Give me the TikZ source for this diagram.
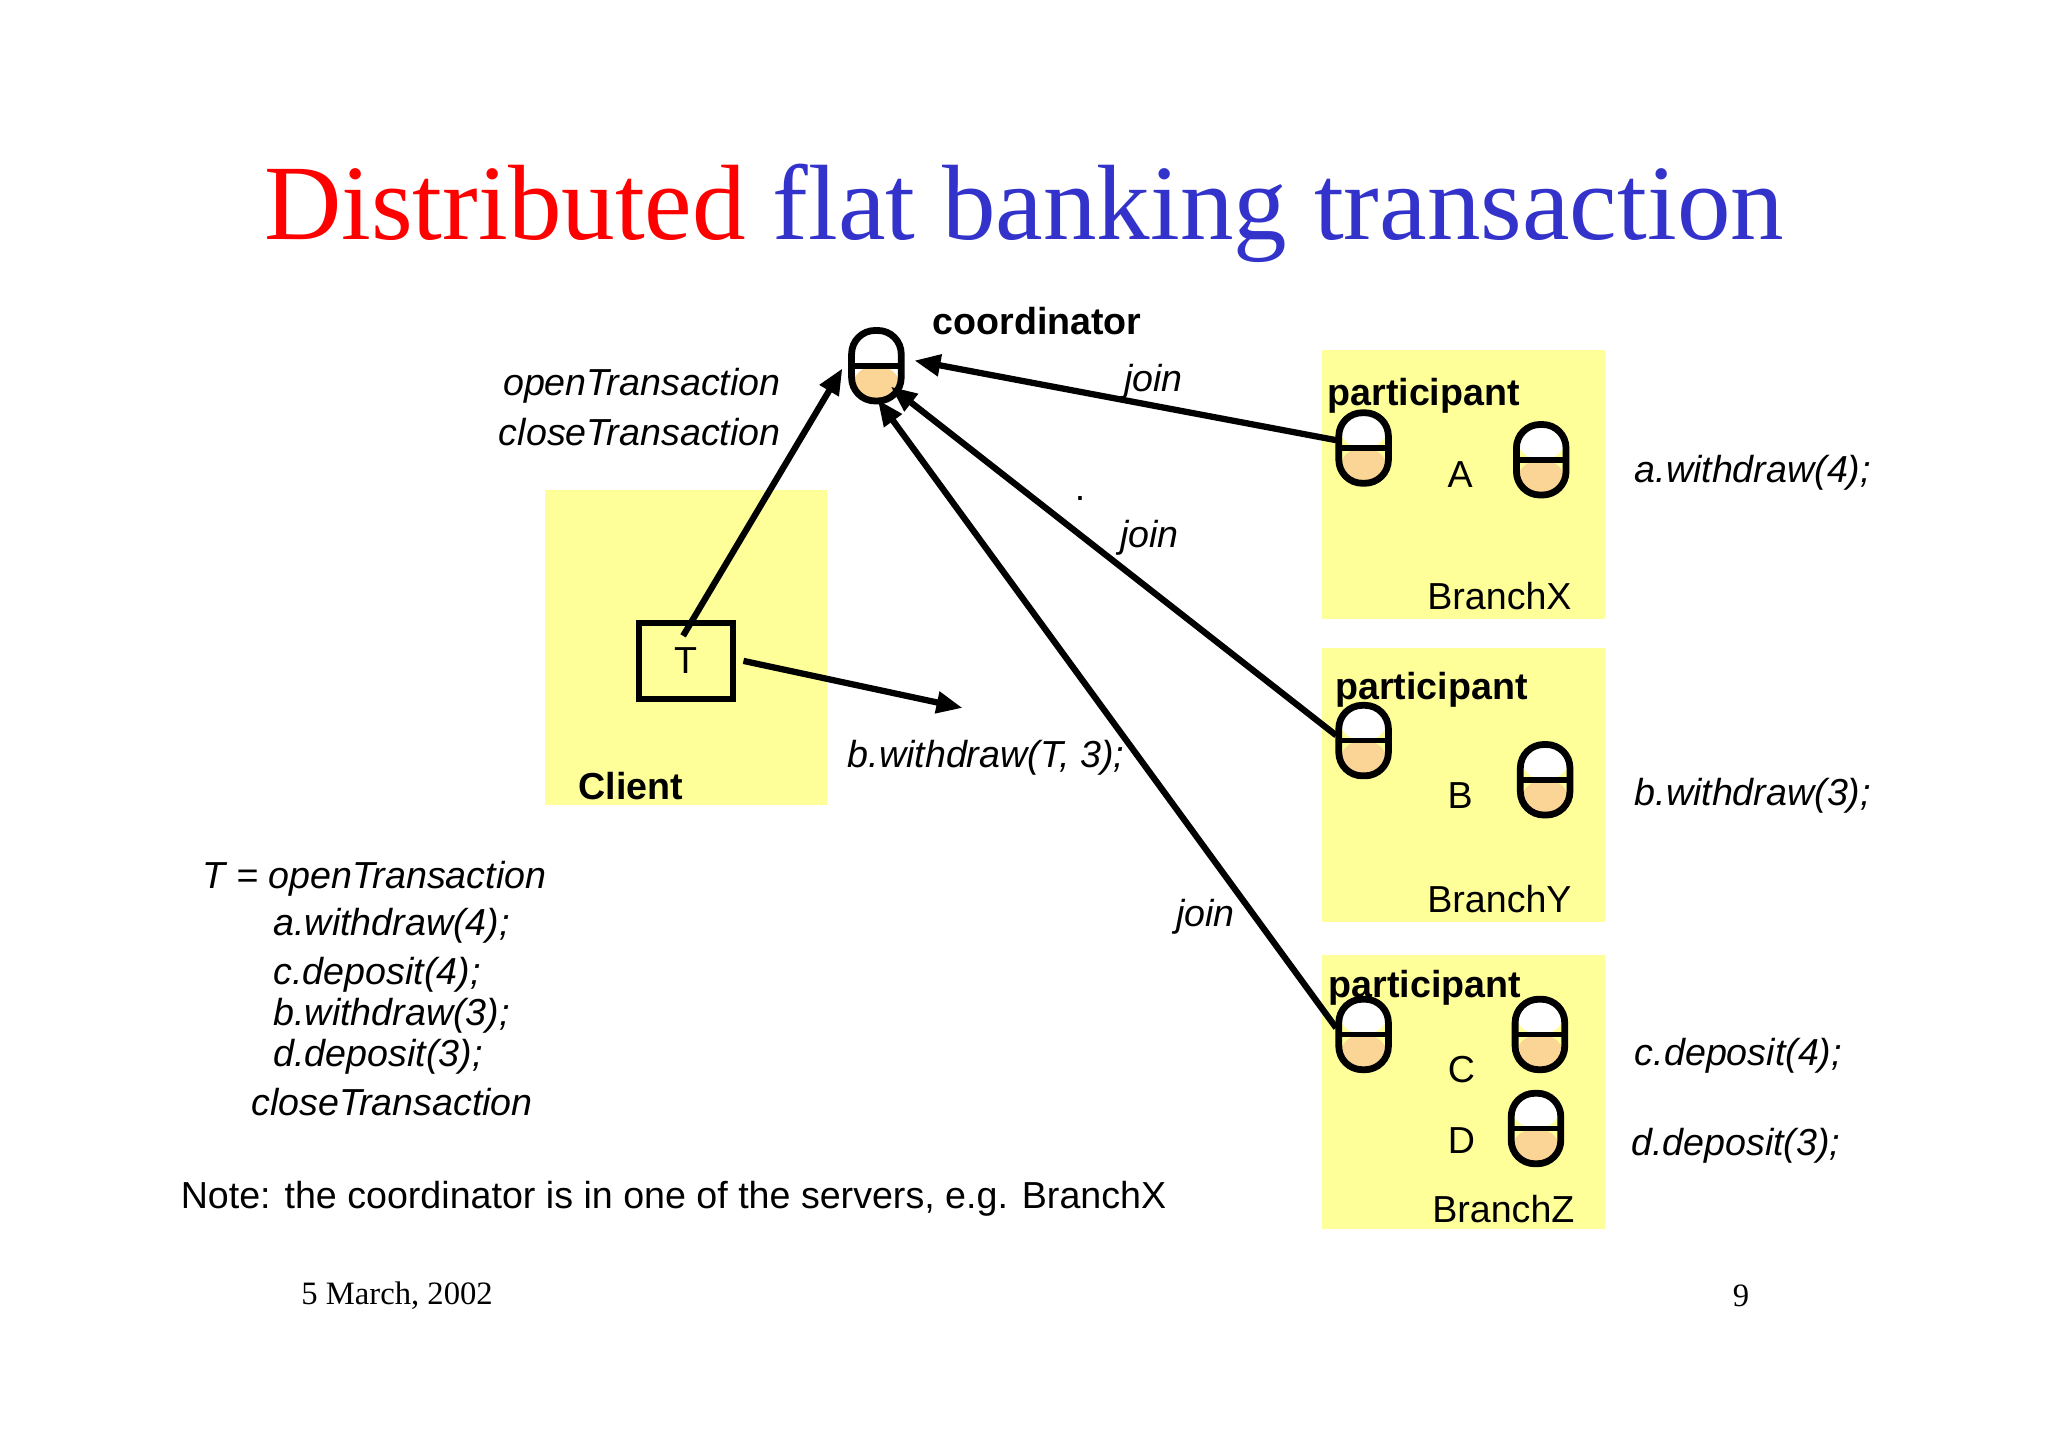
\documentclass[tikz,border=0pt]{standalone}
\usepackage{fontspec}
\setmainfont{Liberation Sans}
\newfontfamily\serifrm{Liberation Serif}
\usetikzlibrary{arrows.meta}
\definecolor{yel}{HTML}{FFFF99}
\definecolor{org}{HTML}{FBD595}
\definecolor{tblue}{HTML}{3333CC}
\begin{document}
\begin{tikzpicture}[x=0.5pt,y=-0.5pt,
  txt/.style={font=\fontsize{14.4}{16}\selectfont\itshape,inner sep=0pt},
  up/.style={font=\fontsize{14.4}{16}\selectfont,inner sep=0pt},
  bld/.style={font=\fontsize{14.4}{16}\selectfont\bfseries,inner sep=0pt},
  ybox/.style={fill=yel,draw=none},
  obj/.style={draw,line width=2.6pt,rounded corners=9pt,minimum width=19pt,minimum height=27pt,inner sep=0pt,
    path picture={\fill[org] (path picture bounding box.west) rectangle (path picture bounding box.south east);
      \fill[white] (path picture bounding box.west) rectangle (path picture bounding box.north east);
      \draw[line width=2.2pt] (path picture bounding box.west) -- (path picture bounding box.east);}},
  arr/.style={line width=2.4pt,-{Triangle[length=10pt,width=8pt]}}]
\useasboundingbox[fill=white] (0,0) rectangle (1568,1108);
\node[font=\fontsize{41}{46}\selectfont\serifrm,inner sep=0pt] (title) at (784,163) {\textcolor{red}{Distributed} \textcolor{tblue}{flat banking transaction}};
% boxes
\fill[ybox] (417,375) rectangle (633,616);
\fill[ybox] (1012,268) rectangle (1229,474);
\fill[ybox] (1012,496) rectangle (1229,706);
\fill[ybox] (1012,731) rectangle (1229,941);
% objects
\node[obj] (co) at (671,280) {};
\node[obj] (a1) at (1044,343) {};
\node[obj] (a2) at (1180,352) {};
\node[obj] (b1) at (1044,567) {};
\node[obj] (b2) at (1183,597) {};
\node[obj] (c1) at (1044,792) {};
\node[obj] (c2) at (1179,792) {};
\node[obj] (d1) at (1176,864) {};
\node[draw,line width=2.2pt,minimum width=36pt,minimum height=29pt,inner sep=0pt,font=\fontsize{14.4}{16}\selectfont] (T) at (525,506) {T};
\coordinate (bw) at (737,542);
% arrows
\draw[arr] ([xshift=-1pt,yshift=-6pt]T.north) -- ([xshift=-13pt,yshift=-1pt]co.center);
\draw[arr] ([xshift=3pt]T.east) -- (bw);
\draw[arr] ([xshift=-10.5pt,yshift=3pt]a1.center) -- ([xshift=14.5pt,yshift=2pt]co.center);
\draw[arr] ([xshift=-10.5pt,yshift=2pt]b1.center) -- ([xshift=5.5pt,yshift=-8pt]co.center);
\draw[arr] ([xshift=-10.5pt,yshift=2.5pt]c1.center) -- ([xshift=0.5pt,yshift=-13pt]co.center);
% texts
\node[bld] at (794,246) {coordinator};
\node[txt,anchor=east] at (598,295) {openTransaction};
\node[txt,anchor=east] at (598,331) {closeTransaction};
\node[txt] at (883,292) {join};
\node[txt] at (880,412) {join};
\node[txt] at (923,702) {join};
\node[up] at (827,382) {.};
\node[bld,anchor=west] at (1016,303) {participant};
\node[bld,anchor=west] at (1022,528) {participant};
\node[bld,anchor=west] at (1017,756) {participant};
\node[up] at (1118,363) {A};
\node[up] at (1118,609) {B};
\node[up] at (1119,819) {C};
\node[up] at (1119,873) {D};
\node[up] at (1148,456) {BranchX};
\node[up] at (1148,688) {BranchY};
\node[up] at (1151,926) {BranchZ};
\node[txt] at (1342,362) {a.withdraw(4);};
\node[txt] at (1342,609) {b.withdraw(3);};
\node[txt] at (1331,808) {c.deposit(4);};
\node[txt] at (1329,877) {d.deposit(3);};
\node[txt] at (755,580) {b.withdraw(T, 3);};
\node[bld] at (483,602) {Client};
\node[txt,anchor=west] at (155,673) {T = openTransaction};
\node[txt,anchor=west] at (209,709) {a.withdraw(4);};
\node[txt,anchor=west] at (209,746) {c.deposit(4);};
\node[txt,anchor=west] at (209,778) {b.withdraw(3);};
\node[txt,anchor=west] at (209,809) {d.deposit(3);};
\node[txt,anchor=west] at (192,844) {closeTransaction};
\node[up,anchor=west] at (138,918) {Note: the coordinator is in one of the servers, e.g. BranchX};
\node[font=\fontsize{12.5}{14}\selectfont\serifrm,inner sep=0pt] at (304,992) {5 March, 2002};
\node[font=\fontsize{12.5}{14}\selectfont\serifrm,inner sep=0pt] at (1333,992) {9};
\end{tikzpicture}
\end{document}
